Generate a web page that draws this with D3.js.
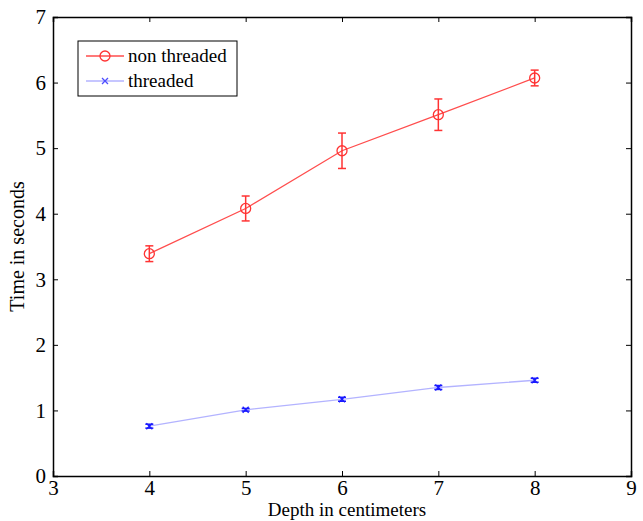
<!DOCTYPE html>
<html>
<head>
<meta charset="utf-8">
<script src="https://cdn.jsdelivr.net/npm/d3@7"></script>
<style>
  body { margin: 0; background: #fff; }
  svg text { font-family: "Liberation Serif", "Times New Roman", serif; }
</style>
</head>
<body>
<div id="chart"></div>
<script>
const depths = [4, 5, 6, 7, 8]
const nonThreaded = [3.39, 4.08, 4.96, 5.51, 6.07]
const nonThreadedErr = [0.12, 0.19, 0.27, 0.24, 0.12]
const threaded = [0.76, 1.01, 1.17, 1.35, 1.46]
const threadedErr = [0.03, 0.02, 0.03, 0.03, 0.03]
const xTicks = [3, 4, 5, 6, 7, 8, 9]
const yTicks = [0, 1, 2, 3, 4, 5, 6, 7]

const fullWidth = 643, fullHeight = 521
const margin = { top: 17, right: 12, bottom: 45, left: 53 },
  width = fullWidth - margin.left - margin.right,
  height = fullHeight - margin.top - margin.bottom

const svg = d3.select('#chart')
  .append('svg')
    .attr('width', fullWidth)
    .attr('height', fullHeight)
  .append('g')
    .attr('transform', `translate(${margin.left}, ${margin.top})`)

const x = d3.scaleLinear().domain([3, 9]).range([0, width])
const y = d3.scaleLinear().domain([0, 7]).range([height, 0])

// axes, ticks pointing inwards on all four sides
svg.append('g')
  .attr('transform', `translate(0, ${height})`)
  .call(d3.axisBottom(x).tickValues(xTicks).tickSize(-5).tickPadding(4).tickFormat(d3.format('d')))
  .call(styleAxis)
svg.append('g')
  .call(d3.axisTop(x).tickValues(xTicks).tickSize(-5).tickFormat(''))
  .call(styleAxis)
svg.append('g')
  .call(d3.axisLeft(y).tickValues(yTicks).tickSize(-5).tickPadding(7).tickFormat(d3.format('d')))
  .call(styleAxis)
svg.append('g')
  .attr('transform', `translate(${width}, 0)`)
  .call(d3.axisRight(y).tickValues(yTicks).tickSize(-5).tickFormat(''))
  .call(styleAxis)

function styleAxis (g) {
  g.attr('font-family', null).attr('font-size', null)
  g.select('.domain').attr('stroke', '#000').attr('stroke-width', 1.5)
  g.selectAll('.tick line').attr('stroke', '#000').attr('stroke-width', 1)
  g.selectAll('.tick text').attr('fill', '#000').style('font-size', '21px')
}

svg.append('text')
  .attr('x', width / 2 + 5)
  .attr('y', height + 40)
  .attr('text-anchor', 'middle')
  .style('font-size', '19px')
  .text('Depth in centimeters')

svg.append('text')
  .attr('transform', `translate(-29, ${height / 2}) rotate(-90)`)
  .attr('text-anchor', 'middle')
  .style('font-size', '20px')
  .text('Time in seconds')

const redData = depths.map((d, i) => ({ x: d, y: nonThreaded[i], e: nonThreadedErr[i] }))
const blueData = depths.map((d, i) => ({ x: d, y: threaded[i], e: threadedErr[i] }))

const line = d3.line().x(d => x(d.x)).y(d => y(d.y))

function drawSeries (data, lineColor, barColor, marker) {
  svg.append('path')
    .datum(data)
    .attr('fill', 'none')
    .attr('stroke', lineColor)
    .attr('stroke-width', 1.3)
    .attr('d', line)

  const g = svg.selectAll(null).data(data).enter().append('g')
  g.append('line')
    .attr('x1', d => x(d.x)).attr('x2', d => x(d.x))
    .attr('y1', d => y(d.y - d.e)).attr('y2', d => y(d.y + d.e))
    .attr('stroke', barColor).attr('stroke-width', 1.5)
  g.append('line')
    .attr('x1', d => x(d.x) - 4).attr('x2', d => x(d.x) + 4)
    .attr('y1', d => y(d.y + d.e)).attr('y2', d => y(d.y + d.e))
    .attr('stroke', barColor).attr('stroke-width', 1.5)
  g.append('line')
    .attr('x1', d => x(d.x) - 4).attr('x2', d => x(d.x) + 4)
    .attr('y1', d => y(d.y - d.e)).attr('y2', d => y(d.y - d.e))
    .attr('stroke', barColor).attr('stroke-width', 1.5)
  g.each(function (d) { marker(d3.select(this), x(d.x), y(d.y), barColor) })
}

function circleMarker (sel, cx, cy, color) {
  sel.append('circle')
    .attr('cx', cx).attr('cy', cy).attr('r', 5)
    .attr('fill', 'none').attr('stroke', color).attr('stroke-width', 1.3)
}

function crossMarker (sel, cx, cy, color) {
  sel.append('path')
    .attr('d', `M${cx - 3},${cy - 3}L${cx + 3},${cy + 3}M${cx - 3},${cy + 3}L${cx + 3},${cy - 3}`)
    .attr('stroke', color).attr('stroke-width', 1.3)
}

drawSeries(redData, '#ff4d4d', '#ff3333', circleMarker)
drawSeries(blueData, '#b3b3ff', '#1a1aff', crossMarker)

// legend
const legend = svg.append('g').attr('transform', `translate(${78 - margin.left}, ${41 - margin.top})`)
legend.append('rect')
  .attr('width', 159).attr('height', 55)
  .attr('fill', '#fff').attr('stroke', '#000').attr('stroke-width', 1)
const legendItems = [
  { label: 'non threaded', line: '#ff4d4d', color: '#ff3333', marker: circleMarker },
  { label: 'threaded', line: '#b3b3ff', color: '#4d4dff', marker: crossMarker }
]
legendItems.forEach((item, i) => {
  const cy = 15 + i * 25
  legend.append('line')
    .attr('x1', 8).attr('x2', 46).attr('y1', cy).attr('y2', cy)
    .attr('stroke', item.line).attr('stroke-width', 1.3)
  item.marker(legend, 27, cy, item.color)
  legend.append('text')
    .attr('x', 50).attr('y', cy + 6)
    .style('font-size', '19px')
    .text(item.label)
})
</script>
</body>
</html>
